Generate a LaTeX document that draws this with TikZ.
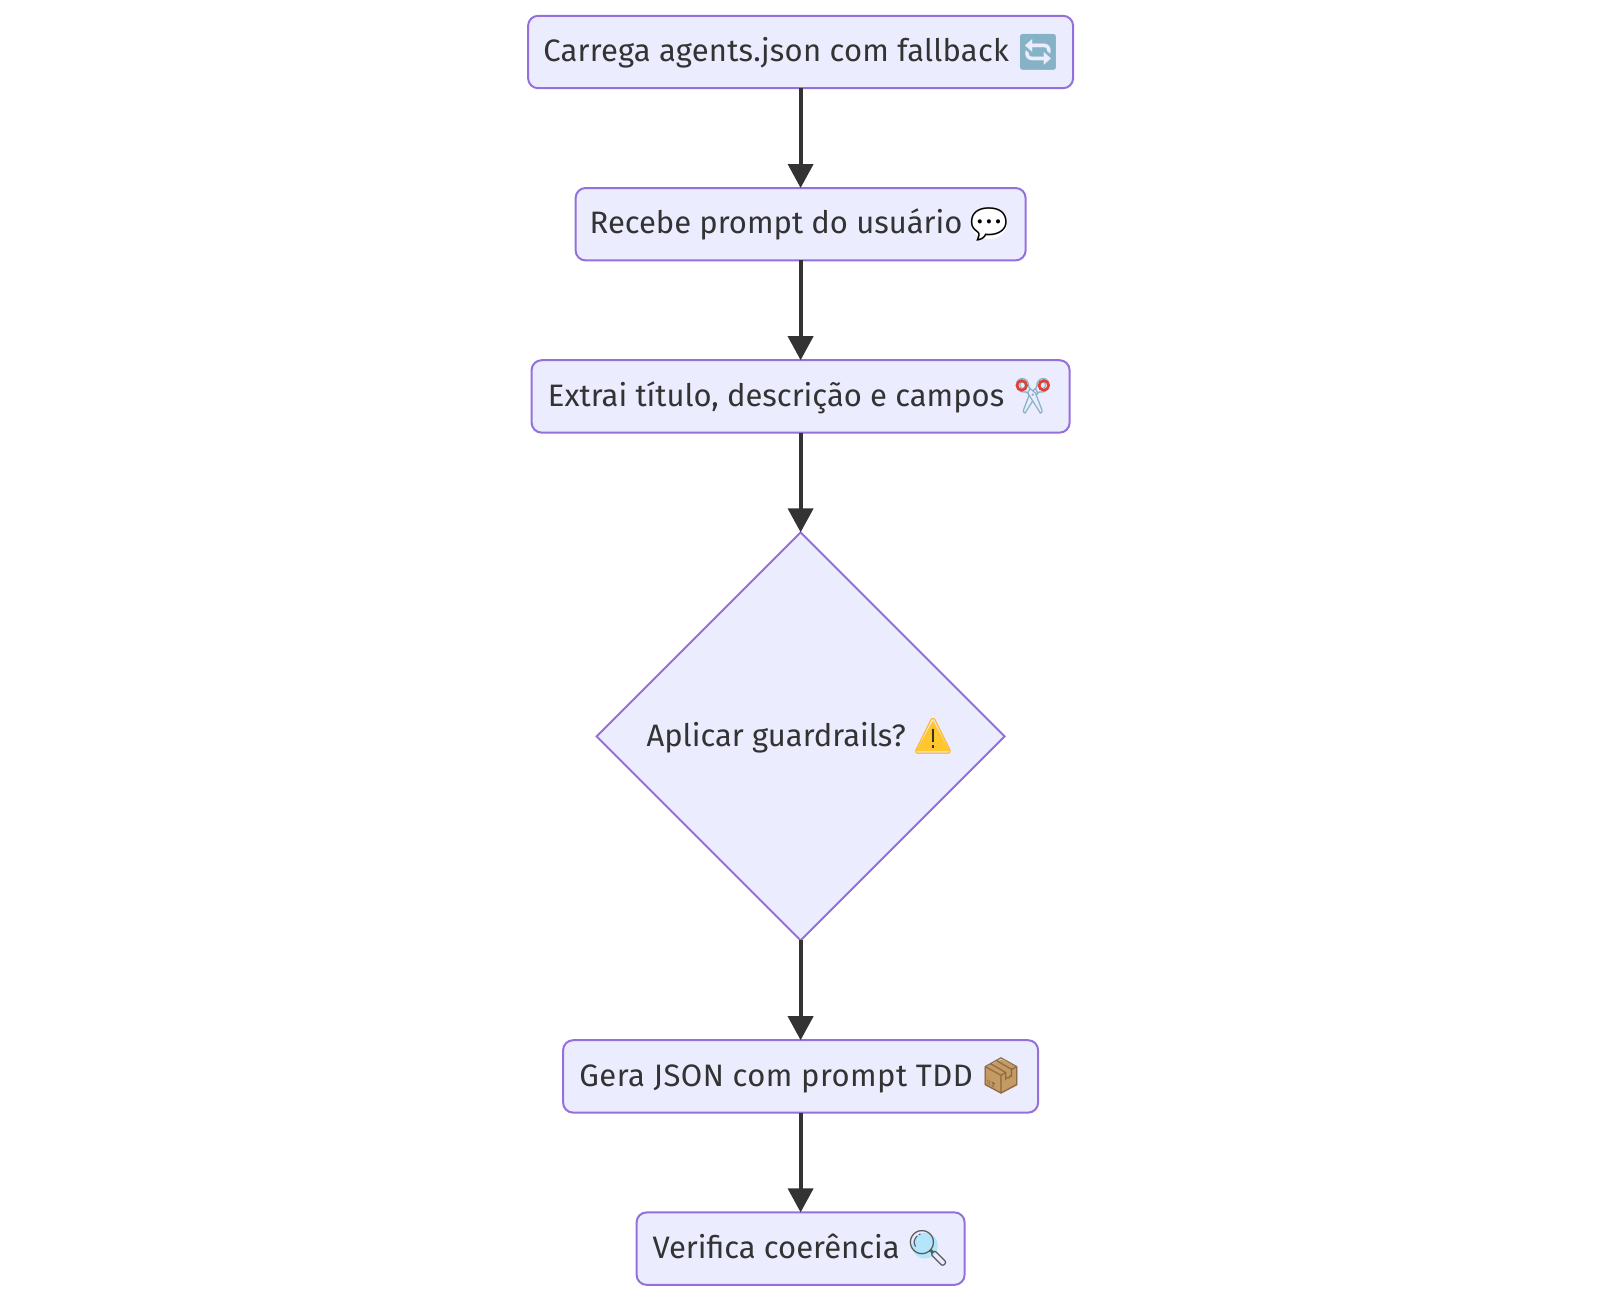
\documentclass[tikz,border=0pt]{standalone}
\usepackage{fontspec}
\setmainfont{Fira Sans}
\newfontfamily\emojifont{Noto Emoji}
\usetikzlibrary{arrows.meta,positioning,shapes.geometric}
\definecolor{boxfill}{HTML}{ECECFF}
\definecolor{boxline}{HTML}{9370DB}
\definecolor{inktext}{HTML}{333333}
\definecolor{iconblue}{HTML}{86B2C6}
\definecolor{iconred}{HTML}{E53E30}
\definecolor{iconamber}{HTML}{FFC62E}
\definecolor{iconbrown}{HTML}{C69A63}
% Room kept in the label for the icon drawn over it
\newcommand{\iconroom}{\hspace*{24.5pt}}
\tikzset{
  stagebox/.style={draw=boxline,fill=boxfill,line width=1pt,rounded corners=5pt,outer sep=0pt,
    minimum height=36.2pt,inner sep=0pt,text=inktext,text height=12.7pt,text depth=3pt,
    font=\fontsize{15.5}{18}\selectfont},
  choicebox/.style={stagebox,shape=diamond,rounded corners=0pt,minimum size=204pt},
  iconmark/.style={inner sep=0pt,font=\emojifont\fontsize{17.7}{18}\selectfont},
  flowline/.style={draw=inktext,line width=1.9pt,-{Triangle[width=12.5pt,length=12pt]}}
}
\begin{document}
\begin{tikzpicture}[node distance=49.9pt]
\useasboundingbox (0,0) rectangle (800pt,-651pt);
% Stages from top to bottom
\node[stagebox,minimum width=272.5pt] (load) at (400.3pt,-26pt)
  {\addfontfeature{LetterSpace=0.7}Carrega agents.json com fallback\iconroom};
\node[stagebox,minimum width=225pt,below=of load] (prompt)
  {Recebe prompt do usuário\iconroom};
\node[stagebox,minimum width=269pt,below=of prompt] (extract)
  {Extrai título, descrição e campos\iconroom};
% Decision
\node[choicebox,below=of extract] (guard)
  {Aplicar guardrails?\iconroom};
\node[stagebox,minimum width=237.5pt,below=of guard] (json)
  {\addfontfeature{LetterSpace=1.5}Gera JSON com prompt TDD\iconroom};
\node[stagebox,minimum width=164pt,below=of json] (check)
  {Verifica coerência\iconroom};
% Connectors
\draw[flowline] (load) -- (prompt);
\draw[flowline] (prompt) -- (extract);
\draw[flowline] (extract) -- (guard);
\draw[flowline] (guard) -- (json);
\draw[flowline] (json) -- (check);
% Icons, with their coloured backing first
\node[iconmark,text=iconblue,xshift=118.7pt] (loadicon) at (load) {🔄};
\fill[white,shift={(prompt)},xshift=94.2pt] (0pt,0.5pt) ellipse (9pt and 8pt);
\node[iconmark,font=\emojifont\fontsize{20.5}{20}\selectfont,xshift=94.2pt] (prompticon) at (prompt) {💬};
\node[iconmark,text=iconblue,xshift=116.1pt] (extracticon) at (extract) {✂};
\draw[iconred,line width=1.3pt,shift={(extract)},xshift=116.1pt]
  (-5.5pt,5.5pt) circle (2.4pt) (5.5pt,5.5pt) circle (2.4pt);
\fill[iconamber,shift={(guard)},xshift=66.2pt]
  (0pt,8pt) -- (8.5pt,-7.5pt) -- (-8.5pt,-7.5pt) -- cycle;
\node[iconmark,text=iconamber!85!orange,xshift=66.2pt] (guardicon) at (guard) {⚠};
\draw[inktext,line width=1.2pt,shift={(guard)},xshift=66.2pt] (0pt,3.5pt) -- (0pt,-3pt) (0pt,-4.5pt) -- (0pt,-6pt);
\fill[iconbrown,shift={(json)},xshift=100.3pt]
  (0pt,8.5pt) -- (8pt,4.5pt) -- (8pt,-4.5pt) -- (0pt,-8.5pt) -- (-8pt,-4.5pt) -- (-8pt,4.5pt) -- cycle;
\node[iconmark,text=iconbrown!70!black,xshift=100.3pt] (jsonicon) at (json) {📦};
\fill[cyan!30,shift={(check)},xshift=63.7pt] (-1.5pt,1.5pt) circle (6.5pt);
\node[iconmark,text=gray!70!black,xshift=63.7pt] (checkicon) at (check) {🔍};
\end{tikzpicture}
\end{document}
